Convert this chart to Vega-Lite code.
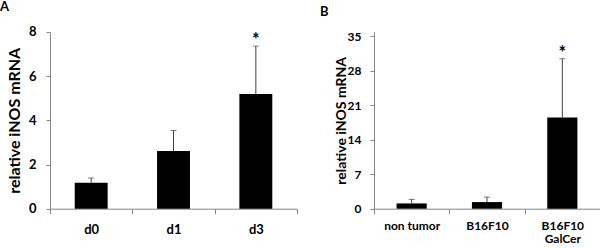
{
  "$schema": "https://vega.github.io/schema/vega-lite/v6.json",
  "padding": {"left": 0, "top": 1, "right": 0, "bottom": 0},
  "background": "white",
  "spacing": 22,
  "config": {
    "view": {"stroke": null},
    "font": "Lato",
    "axis": {
      "domainColor": "#868686",
      "tickColor": "#868686",
      "grid": false,
      "labelFont": "Lato",
      "labelFontWeight": "bold",
      "labelColor": "#000000",
      "titleFont": "Lato",
      "titleFontWeight": "bold",
      "titleColor": "#000000",
      "labelOverlap": false
    },
    "title": {"font": "Lato", "fontWeight": "bold", "fontSize": 13, "anchor": "start", "frame": "group", "color": "#000000"}
  },
  "hconcat": [
    {
      "width": 247,
      "height": 176.7,
      "title": {"text": "A", "offset": 11.5, "dx": -50},
      "data": {"values": [
        {"group": "d0", "mean": 1.18, "upper": 1.39, "sig": false},
        {"group": "d1", "mean": 2.61, "upper": 3.54, "sig": false},
        {"group": "d3", "mean": 5.19, "upper": 7.36, "sig": true}
      ]},
      "encoding": {
        "x": {"field": "group", "type": "nominal", "sort": null,
          "scale": {"paddingInner": 0, "paddingOuter": 0},
          "axis": {"title": null, "labelAngle": 0, "tickBand": "extent", "tickSize": 5, "labelPadding": 10, "labelFontSize": 13}}
      },
      "layer": [
        {"mark": {"type": "bar", "color": "black", "width": {"band": 0.4}},
         "encoding": {"y": {"field": "mean", "type": "quantitative", "scale": {"domain": [0, 8], "nice": false},
           "axis": {"values": [0, 2, 4, 6, 8], "tickCount": 10, "title": "relative iNOS mRNA", "tickSize": 4, "labelPadding": 10, "labelFontSize": 13, "titleFontSize": 16, "titlePadding": 6}}}},
        {"mark": {"type": "rule", "color": "#404040"},
         "encoding": {"y": {"field": "mean", "type": "quantitative"}, "y2": {"field": "upper"}}},
        {"mark": {"type": "tick", "color": "#404040", "size": 6, "thickness": 1},
         "encoding": {"y": {"field": "upper", "type": "quantitative"}}},
        {"transform": [{"filter": "datum.sig"}],
         "mark": {"type": "text", "fontSize": 18, "fontWeight": "bold", "baseline": "alphabetic", "dy": 0, "color": "black"},
         "encoding": {"y": {"field": "upper", "type": "quantitative"}, "text": {"value": "*"}}}
      ]
    },
    {
      "width": 226,
      "height": 176.7,
      "title": {"text": "B", "offset": 11.5, "dx": -54},
      "data": {"values": [
        {"group": "non tumor", "mean": 1.07, "upper": 1.88, "sig": false},
        {"group": "B16F10", "mean": 1.34, "upper": 2.35, "sig": false},
        {"group": "B16F10 GalCer", "mean": 18.5, "upper": 30.4, "sig": true}
      ]},
      "encoding": {
        "x": {"field": "group", "type": "nominal", "sort": null,
          "scale": {"paddingInner": 0, "paddingOuter": 0},
          "axis": {"title": null, "labelAngle": 0, "tickBand": "extent", "tickSize": 5, "labelPadding": 7, "labelFontSize": 12, "labelLineHeight": 13,
            "labelExpr": "datum.label == 'B16F10 GalCer' ? ['B16F10', 'GalCer'] : datum.label"}}
      },
      "layer": [
        {"mark": {"type": "bar", "color": "black", "width": {"band": 0.4}},
         "encoding": {"y": {"field": "mean", "type": "quantitative", "scale": {"domain": [0, 35.83], "nice": false},
           "axis": {"values": [0, 7, 14, 21, 28, 35], "tickCount": 10, "title": "relative iNOS mRNA", "tickSize": 4, "labelPadding": 9, "labelFontSize": 12, "titleFontSize": 14, "titlePadding": -1}}}},
        {"mark": {"type": "rule", "color": "#404040"},
         "encoding": {"y": {"field": "mean", "type": "quantitative"}, "y2": {"field": "upper"}}},
        {"mark": {"type": "tick", "color": "#404040", "size": 6, "thickness": 1},
         "encoding": {"y": {"field": "upper", "type": "quantitative"}}},
        {"transform": [{"filter": "datum.sig"}],
         "mark": {"type": "text", "fontSize": 18, "fontWeight": "bold", "baseline": "alphabetic", "dy": 0, "color": "black"},
         "encoding": {"y": {"field": "upper", "type": "quantitative"}, "text": {"value": "*"}}}
      ]
    }
  ]
}
